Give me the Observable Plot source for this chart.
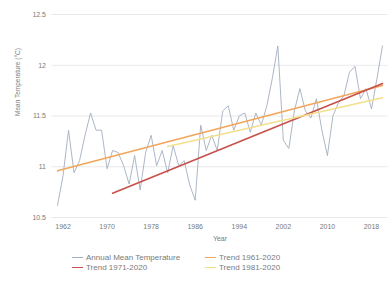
<!DOCTYPE html>
<html>
<head>
<meta charset="utf-8">
<script src="https://cdn.jsdelivr.net/npm/d3@7"></script>
<script src="https://cdn.jsdelivr.net/npm/@observablehq/plot@0.6"></script>
<style>
  body { margin: 0; background: #fff; font-family: "Liberation Sans", Arial, sans-serif; }
  #wrap { width: 390px; height: 287px; position: relative; overflow: hidden; }
  #legend { position: absolute; left: 72px; top: 253px; display: grid; grid-template-columns: 133px 120px; row-gap: 1px; font-size: 8px; color: #7a7a7a; }
  .item { display: flex; align-items: center; height: 9px; }
  .sw { width: 11px; height: 0; border-top: 1.5px solid; margin-right: 3px; }
</style>
</head>
<body>
<div id="wrap"><div id="chart"></div><div id="legend"></div></div>
<script>
// Data
const years = d3.range(1961, 2021);
const annualMean = [10.62,10.91,11.36,10.94,11.06,11.31,11.53,11.36,11.36,10.98,
  11.16,11.14,11.01,10.83,11.11,10.77,11.14,11.31,11.01,11.16,
  10.94,11.21,11.01,11.06,10.82,10.67,11.41,11.16,11.31,11.16,
  11.55,11.60,11.36,11.50,11.53,11.34,11.53,11.41,11.60,11.87,
  12.19,11.26,11.18,11.55,11.77,11.55,11.48,11.67,11.36,11.11,
  11.50,11.63,11.70,11.93,11.99,11.67,11.77,11.57,11.87,12.19];
const trendNames = ["Trend 1961-2020", "Trend 1971-2020", "Trend 1981-2020"];
const trendYears = [[1961, 2020], [1971, 2020], [1981, 2020]];
const trendValues = [[10.96, 11.80], [10.74, 11.82], [11.20, 11.68]];
const trendColors = ["#f2a65a", "#c8504b", "#f3e08c"];
const seriesName = "Annual Mean Temperature";
const seriesColor = "#a3aec0";
const xTicks = [1962, 1970, 1978, 1986, 1994, 2002, 2010, 2018];
const yTicks = [10.5, 11, 11.5, 12, 12.5];

const annual = years.map((y, i) => ({year: y, value: annualMean[i]}));
const trends = trendNames.flatMap((name, k) =>
  trendYears[k].map((y, j) => ({name, year: y, value: trendValues[k][j]})));

const chart = Plot.plot({
  width: 390,
  height: 250,
  marginLeft: 51.5,
  marginRight: 2.5,
  marginTop: 14,
  marginBottom: 33,
  style: { fontFamily: "Liberation Sans, Arial, sans-serif", fontSize: "7px", color: "#7a7a7a", background: "#fff" },
  x: { domain: [1960, 2021], ticks: xTicks, tickFormat: d => String(d), tickSize: 0, tickPadding: 7, label: null },
  y: { domain: [10.5, 12.5], ticks: yTicks, tickFormat: d => String(d), tickSize: 0, tickPadding: 6, label: null },
  marks: [
    Plot.gridY(yTicks, { stroke: "#e3e3e3", strokeOpacity: 1, strokeWidth: 0.8 }),
    Plot.line(annual, { x: "year", y: "value", stroke: seriesColor, strokeWidth: 0.9 }),
    Plot.line(trends, { x: "year", y: "value", z: "name", stroke: d => trendColors[trendNames.indexOf(d.name)], strokeWidth: 1.6 }),
    Plot.text(["Year"], { frameAnchor: "bottom", dy: 23, fontSize: 7, fill: "#7a7a7a" }),
    Plot.text(["Mean Temperature (°C)"], { frameAnchor: "left", dx: -34.5, rotate: -90, fontSize: 6.5, fill: "#7a7a7a" })
  ]
});
document.getElementById("chart").appendChild(chart);

const legendItems = [
  [seriesName, seriesColor],
  [trendNames[0], trendColors[0]],
  [trendNames[1], trendColors[1]],
  [trendNames[2], trendColors[2]]
];
const lg = document.getElementById("legend");
for (const [name, color] of legendItems) {
  const it = document.createElement("div");
  it.className = "item";
  const sw = document.createElement("span");
  sw.className = "sw";
  sw.style.borderTopColor = color;
  it.appendChild(sw);
  it.appendChild(document.createTextNode(name));
  lg.appendChild(it);
}
</script>
</body>
</html>
